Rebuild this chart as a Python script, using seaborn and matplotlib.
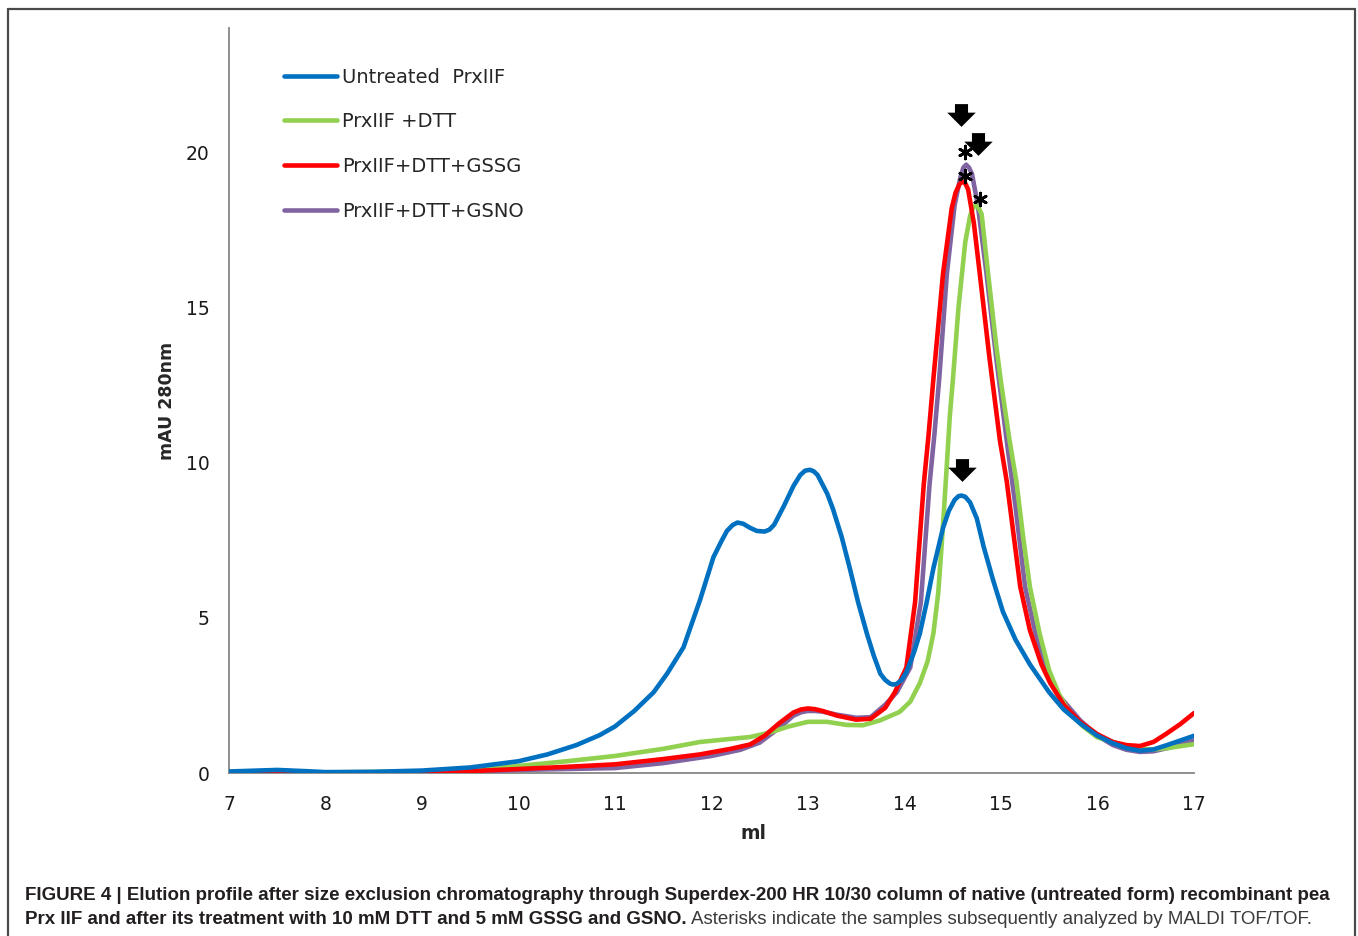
import numpy as np
import pandas as pd
import matplotlib
matplotlib.use('Agg')
import matplotlib.pyplot as plt
import seaborn as sns
from matplotlib.path import Path
from matplotlib.lines import Line2D

# Elution volume (ml) and absorbance (mAU 280nm)
untreated_ml = [7.0, 7.3, 7.5, 7.8, 8.0, 8.5, 9.0, 9.5, 10.0, 10.3, 10.6, 10.84, 11.0, 11.2, 11.4,
                11.54, 11.71, 11.88, 12.02, 12.1, 12.16, 12.22, 12.27, 12.33, 12.4, 12.47, 12.55,
                12.6, 12.65, 12.75, 12.85, 12.92, 12.97, 13.02, 13.06, 13.1, 13.2, 13.26, 13.35,
                13.43, 13.52, 13.61, 13.68, 13.75, 13.8, 13.85, 13.88, 13.92, 13.97, 14.02, 14.1,
                14.16, 14.23, 14.3, 14.4, 14.46, 14.52, 14.56, 14.59, 14.63, 14.68, 14.75, 14.82,
                14.92, 15.02, 15.15, 15.3, 15.5, 15.65, 15.82, 16.0, 16.16, 16.3, 16.44, 16.58,
                16.72, 16.86, 17.0]
untreated_mau = [0.05, 0.08, 0.1, 0.06, 0.03, 0.04, 0.08, 0.18, 0.38, 0.6, 0.9, 1.22, 1.5, 2.0, 2.6,
                 3.2, 4.05, 5.56, 6.95, 7.45, 7.8, 7.99, 8.07, 8.03, 7.9, 7.8, 7.78,
                 7.84, 8.0, 8.6, 9.25, 9.6, 9.74, 9.77, 9.72, 9.6, 9.0, 8.5, 7.6,
                 6.64, 5.5, 4.5, 3.8, 3.2, 3.0, 2.88, 2.85, 2.87, 3.0, 3.25, 3.9,
                 4.5, 5.5, 6.6, 7.9, 8.45, 8.8, 8.92, 8.94, 8.9, 8.72, 8.2, 7.3,
                 6.2, 5.2, 4.3, 3.5, 2.6, 2.05, 1.6, 1.2, 0.96, 0.8, 0.72, 0.76,
                 0.9, 1.05, 1.2]

dtt_ml = [7.0, 8.0, 9.0, 9.5, 10.0, 10.5, 11.0, 11.5, 11.88, 12.2, 12.4, 12.6, 12.8, 13.0, 13.2,
          13.4, 13.57, 13.75, 13.95, 14.06, 14.16, 14.24, 14.3, 14.35, 14.38, 14.41, 14.44, 14.47,
          14.5, 14.56, 14.63, 14.68, 14.71, 14.74, 14.77, 14.8, 14.87, 14.95, 15.0, 15.09, 15.16,
          15.23, 15.3, 15.4, 15.5, 15.6, 15.7, 15.85, 16.0, 16.16, 16.3, 16.44, 16.58, 16.72, 17.0]
dtt_mau = [0.03, 0.02, 0.05, 0.1, 0.23, 0.38, 0.55, 0.78, 1.0, 1.1, 1.16, 1.3, 1.5, 1.65, 1.65,
           1.55, 1.54, 1.7, 1.97, 2.3, 2.9, 3.6, 4.5, 5.8, 7.1, 8.5, 9.97, 11.5,
           12.6, 15.0, 17.1, 17.95, 18.2, 18.3, 18.2, 18.0, 16.0, 13.8, 12.6, 10.7, 9.4,
           7.6, 6.0, 4.5, 3.3, 2.55, 2.0, 1.5, 1.15, 1.0, 0.85, 0.77, 0.76, 0.8, 0.93]

gssg_ml = [7.0, 8.0, 9.0, 9.5, 10.0, 10.5, 11.0, 11.5, 11.88, 12.2, 12.4, 12.55, 12.7, 12.85, 12.93,
           13.0, 13.07, 13.15, 13.3, 13.5, 13.65, 13.8, 13.9, 14.02, 14.11, 14.2, 14.25, 14.3, 14.4,
           14.49, 14.53, 14.57, 14.6, 14.63, 14.66, 14.72, 14.78, 14.88, 14.99, 15.06, 15.2, 15.3,
           15.42, 15.51, 15.65, 15.82, 16.0, 16.16, 16.3, 16.44, 16.58, 16.72, 16.86, 17.0]
gssg_mau = [0.02, 0.01, 0.03, 0.06, 0.13, 0.2, 0.28, 0.45, 0.6, 0.78, 0.92, 1.2, 1.6, 1.95, 2.05,
            2.08, 2.06, 2.0, 1.85, 1.72, 1.75, 2.1, 2.6, 3.4, 5.5, 9.3, 10.9, 12.7, 16.1,
            18.2, 18.7, 18.97, 19.05, 19.0, 18.8, 17.7, 16.1, 13.4, 10.7, 9.4, 6.0, 4.6,
            3.5, 2.9, 2.2, 1.65, 1.25, 1.0, 0.9, 0.87, 1.0, 1.28, 1.58, 1.93]

gsno_ml = [7.0, 8.0, 9.0, 9.5, 10.0, 10.5, 11.0, 11.5, 12.0, 12.3, 12.5, 12.7, 12.85, 12.93, 13.0,
           13.07, 13.15, 13.3, 13.5, 13.65, 13.8, 13.92, 14.06, 14.17, 14.26, 14.31, 14.36, 14.44,
           14.52, 14.58, 14.61, 14.64, 14.67, 14.7, 14.76, 14.85, 14.95, 15.06, 15.15, 15.25, 15.35,
           15.45, 15.6, 15.82, 16.0, 16.16, 16.3, 16.44, 16.58, 16.72, 16.86, 17.0]
gsno_mau = [0.02, 0.01, 0.02, 0.04, 0.1, 0.13, 0.16, 0.32, 0.55, 0.75, 0.98, 1.45, 1.85, 1.96, 2.0,
            2.0, 1.98, 1.88, 1.78, 1.8, 2.2, 2.6, 3.4, 5.5, 9.3, 10.9, 12.7, 16.1,
            18.3, 19.2, 19.5, 19.6, 19.5, 19.3, 18.3, 16.1, 13.4, 10.7, 8.6, 6.0, 4.6,
            3.5, 2.5, 1.7, 1.2, 0.9, 0.75, 0.68, 0.7, 0.8, 0.92, 1.05]

series_names = ['Untreated  PrxIIF', 'PrxIIF +DTT', 'PrxIIF+DTT+GSSG', 'PrxIIF+DTT+GSNO']
series_colors = ['#0070C0', '#92D050', '#FF0000', '#8064A2']

# markers over the peaks (arrows = collected fractions, asterisks = MALDI samples)
arrow_ml = [14.585, 14.757, 14.596]
arrow_mau = [21.19, 20.27, 9.77]
star_ml = [14.627, 14.627, 14.78]
star_mau = [20.0, 19.23, 18.49]

sns.set_style('white')
plt.rcParams['font.family'] = ['DejaVu Sans']

fig = plt.figure(figsize=(13.58, 9.36), dpi=100)
ax = fig.add_axes([0.1686, 0.1741, 0.7106, 0.7959])

frames = [
    pd.DataFrame({'ml': untreated_ml, 'mAU': untreated_mau, 'sample': series_names[0]}),
    pd.DataFrame({'ml': dtt_ml, 'mAU': dtt_mau, 'sample': series_names[1]}),
    pd.DataFrame({'ml': gssg_ml, 'mAU': gssg_mau, 'sample': series_names[2]}),
    pd.DataFrame({'ml': gsno_ml, 'mAU': gsno_mau, 'sample': series_names[3]}),
]

# draw order: purple first, blue last (blue sits on top in the original)
zorders = [6, 4, 5, 3]
for df, col, z in zip(frames, series_colors, zorders):
    sns.lineplot(data=df, x='ml', y='mAU', color=col, linewidth=3.3, label=df['sample'].iloc[0],
                 estimator=None, ax=ax, zorder=z, solid_capstyle='round', solid_joinstyle='round')

# arrows
arrow_verts = [(-0.46, 0.8), (0.46, 0.8), (0.46, 0.2), (1.0, 0.2), (0.0, -0.8), (-1.0, 0.2),
               (-0.46, 0.2), (-0.46, 0.8)]
arrow_marker = Path(arrow_verts, closed=True)
ax.scatter(arrow_ml, arrow_mau, marker=arrow_marker, s=420, color='black', linewidths=0, zorder=8,
           clip_on=False)
ax.scatter(star_ml, star_mau, marker=(6, 2, 0), s=85, color='black', linewidths=2.0, zorder=8,
           clip_on=False)

ax.set_xlim(7, 17)
ax.set_ylim(0, 24)
ax.set_xticks(range(7, 18))
ax.set_yticks([0, 5, 10, 15, 20])

for side in ['top', 'right']:
    ax.spines[side].set_visible(False)
for side in ['left', 'bottom']:
    ax.spines[side].set_color('#868686')
    ax.spines[side].set_linewidth(1.3)
ax.tick_params(axis='both', direction='out', length=4.5, width=1.3, color='#868686',
               labelsize=13.5, labelcolor='#1a1a1a')
ax.tick_params(axis='x', pad=11)
ax.tick_params(axis='y', pad=9.5)
ax.set_xlabel('ml', fontsize=13.5, fontweight='bold', labelpad=8)
ax.xaxis.set_label_coords(0.544, -0.069)
ax.set_ylabel('mAU 280nm', fontsize=12.5, fontweight='bold', labelpad=7)

handles, labels = ax.get_legend_handles_labels()
order = [labels.index(n) for n in series_names]
ax.legend([handles[i] for i in order], [labels[i] for i in order], loc='upper left',
          bbox_to_anchor=(0.057, 0.947), frameon=False, fontsize=14, handlelength=2.75,
          handletextpad=0.25, labelspacing=1.32, borderpad=0, borderaxespad=0)

# frame around the figure (open at the bottom)
fw, fh = 1358.0, 936.0
frame_kw = dict(color='#4a4a4a', linewidth=1.6, transform=fig.transFigure)
fig.add_artist(Line2D([8 / fw, 8 / fw], [0, 1 - 9 / fh], **frame_kw))
fig.add_artist(Line2D([8 / fw, 1355 / fw], [1 - 9 / fh, 1 - 9 / fh], **frame_kw))
fig.add_artist(Line2D([1355 / fw, 1355 / fw], [0, 1 - 9 / fh], **frame_kw))

# caption
cap_font = ['Liberation Sans', 'DejaVu Sans']
line1 = ('FIGURE 4 | Elution profile after size exclusion chromatography through Superdex-200 HR '
         '10/30 column of native (untreated form) recombinant pea')
line2_bold = 'Prx IIF and after its treatment with 10 mM DTT and 5 mM GSSG and GSNO.'
line2_reg = 'Asterisks indicate the samples subsequently analyzed by MALDI TOF/TOF.'

renderer = fig.canvas.get_renderer()
t1 = fig.text(25 / fw, 1 - 895 / fh, line1, fontsize=12, fontweight='bold', family=cap_font,
              color='#231f20', va='center', ha='left')
w1 = t1.get_window_extent(renderer).width
fs = 12 * 1300.0 / w1
t1.set_fontsize(fs)
t2 = fig.text(25 / fw, 1 - 920 / fh, line2_bold, fontsize=fs, fontweight='bold', family=cap_font,
              color='#231f20', va='center', ha='left')
w2 = t2.get_window_extent(renderer).width
fig.text((25 + w2 + fs * 0.35) / fw, 1 - 920 / fh, line2_reg, fontsize=fs, family=cap_font,
         color='#3a3a3a', va='center', ha='left')

fig.savefig('out.png', dpi=100)
